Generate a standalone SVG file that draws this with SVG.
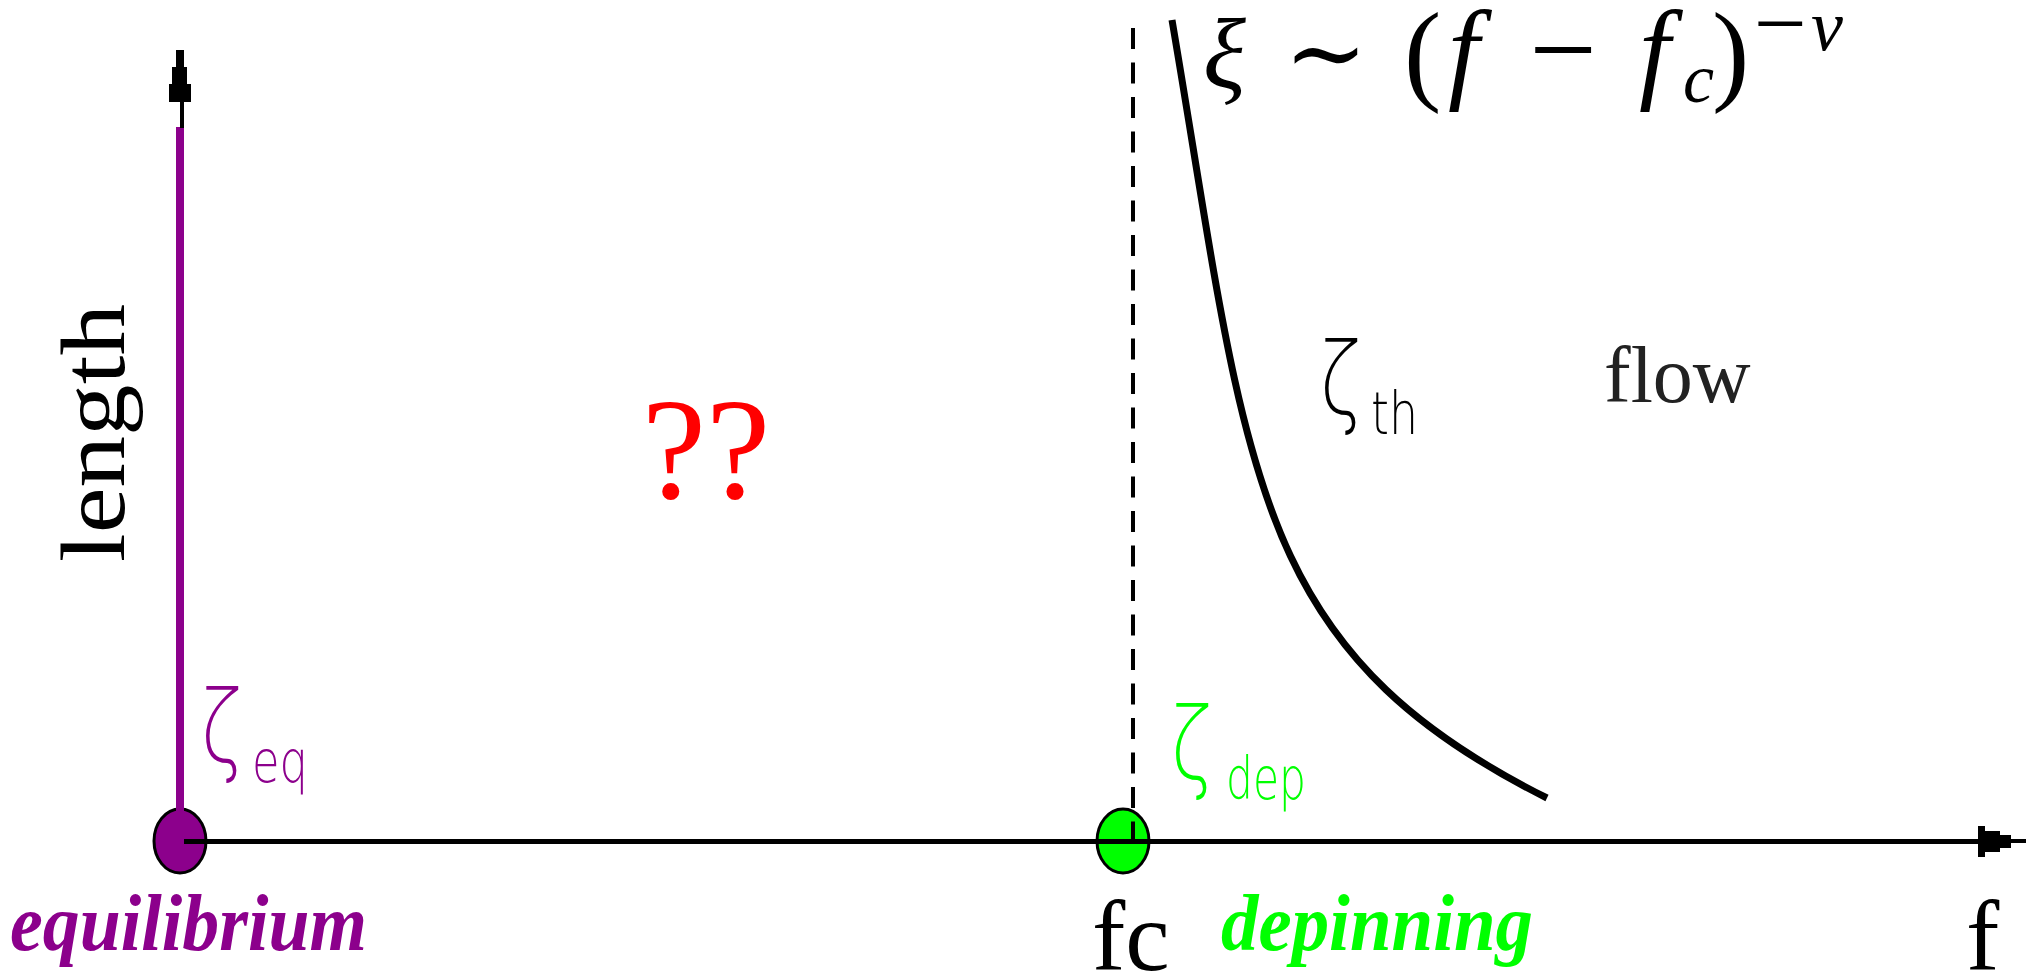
<svg xmlns="http://www.w3.org/2000/svg" width="2036" height="973" viewBox="0 0 2036 973">
<style>
.serif{font-family:"Liberation Serif","Times New Roman","DejaVu Serif",serif}
.it{font-style:italic}
.bi{font-style:italic;font-weight:bold}
.thin{font-family:"DejaVu Sans","Noto Sans",sans-serif;font-weight:200}
.ax{stroke:#000;fill:none}
</style>
<rect width="2036" height="973" fill="#fff"/>
<g id="points">
<ellipse id="equilibrium-point" cx="180" cy="841" rx="26" ry="32" fill="#8c008c" stroke="#000" stroke-width="3"/>
<ellipse id="depinning-point" cx="1123" cy="841" rx="26" ry="32" fill="#00ff00" stroke="#000" stroke-width="3"/>
</g>
<g id="connectors">
<line x1="180" y1="127" x2="180" y2="841" stroke="#8c008c" stroke-width="8"/>
<line x1="182" y1="98" x2="182" y2="128" class="ax" stroke-width="4"/>
<polygon points="176,50 184,50 184,67 187,67 187,84 191,84 191,102 169,102 169,84 172,84 172,67 176,67" fill="#000"/>
<line x1="184" y1="841.5" x2="1980" y2="841.5" class="ax" stroke-width="5"/>
<polygon points="1978,826 1985,826 1985,831 2000,831 2000,835 2011,835 2011,839 2026,839 2026,843 2011,843 2011,848 2000,848 2000,852 1985,852 1985,857 1978,857" fill="#000"/>
<line x1="1133" y1="28" x2="1133" y2="841" class="ax" stroke-width="4" stroke-dasharray="21 13.5"/>
<path id="xi-curve" class="ax" stroke-width="7" d="M1172,20 C1248.5,470 1247,648 1547,798"/>
</g>
<g id="formula" class="serif" fill="#000">
<text x="1203" y="87" font-size="100" class="it">ξ</text>
<text x="1326" y="87" font-size="100" text-anchor="middle">∼</text>
<text x="1404" y="90" font-size="112">(</text>
<text x="1448" y="88" font-size="112" class="it">f</text>
<text x="1563" y="90" font-size="120" text-anchor="middle">−</text>
<text x="1639" y="88" font-size="112" class="it">f</text>
<text x="1683" y="102" font-size="70" class="it">c</text>
<text x="1712" y="90" font-size="112">)</text>
<text x="1780" y="55" font-size="94" text-anchor="middle">−</text>
<text x="1811" y="50" font-size="72" class="it">ν</text>
</g>
<g id="length-label"><text class="serif" font-size="90" fill="#000" text-anchor="middle" textLength="258" lengthAdjust="spacingAndGlyphs" transform="translate(124,433) rotate(-90)">length</text></g>
<g id="unknown-label"><text class="serif" x="706" y="498" font-size="145" fill="#ff0000" text-anchor="middle">??</text></g>
<g id="flow-label"><text class="serif" x="1604" y="402" font-size="80" fill="#222">flow</text></g>
<g id="zeta-eq" fill="#8c008c">
<text class="thin" font-size="100" transform="translate(201,762) scale(0.75,1)">ζ</text>
<text class="thin" x="252" y="782" font-size="58" textLength="56" lengthAdjust="spacingAndGlyphs">eq</text>
</g>
<g id="zeta-dep" fill="#00ff00">
<text class="thin" font-size="100" transform="translate(1171,779) scale(0.75,1)">ζ</text>
<text class="thin" x="1226" y="799" font-size="58" textLength="80" lengthAdjust="spacingAndGlyphs">dep</text>
</g>
<g id="zeta-th" fill="#000">
<text class="thin" font-size="100" transform="translate(1320,414) scale(0.75,1)">ζ</text>
<text class="thin" x="1371" y="434" font-size="58" textLength="47" lengthAdjust="spacingAndGlyphs">th</text>
</g>
<g id="equilibrium-label"><text class="serif bi" x="10" y="950" font-size="80" fill="#8c008c" textLength="357" lengthAdjust="spacingAndGlyphs">equilibrium</text></g>
<g id="depinning-label"><text class="serif bi" x="1221" y="950" font-size="80" fill="#00ff00" textLength="312" lengthAdjust="spacingAndGlyphs">depinning</text></g>
<g id="fc-label"><text class="serif" x="1092" y="970" font-size="100" fill="#000">fc</text></g>
<g id="f-label"><text class="serif" x="1966" y="970" font-size="100" fill="#000">f</text></g>
</svg>
